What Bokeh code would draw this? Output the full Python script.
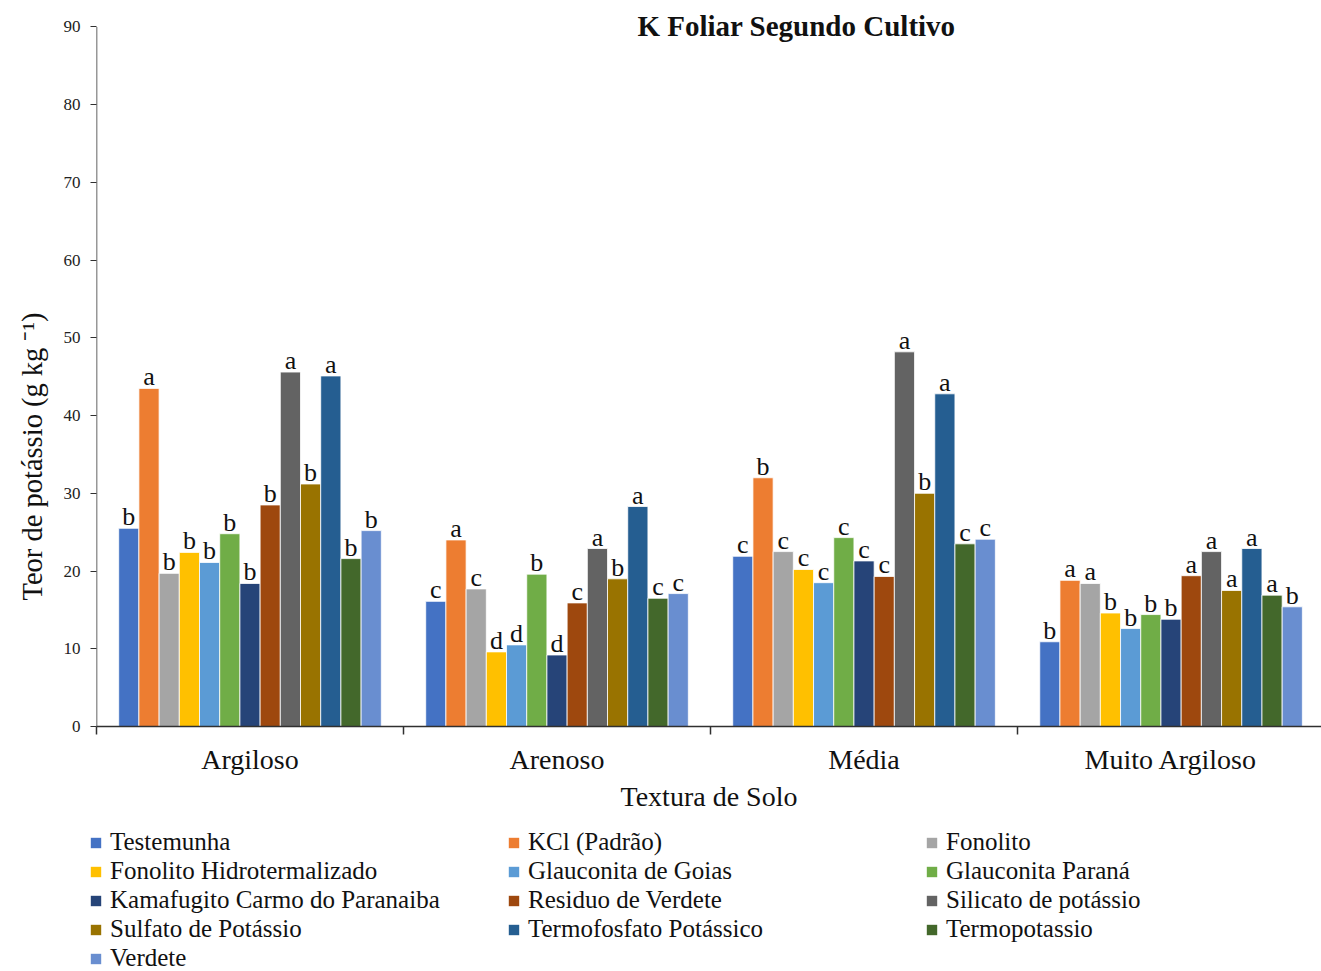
from bokeh.plotting import figure
from bokeh.layouts import column, row
from bokeh.models import (ColumnDataSource, FixedTicker, Legend, LegendItem,
                          Range1d, Label, Title)
from bokeh.core.properties import value
from bokeh.embed import file_html
from bokeh.resources import INLINE

# Soil textures (groups on the x axis)
categories = ["Argiloso", "Arenoso", "Média", "Muito Argiloso"]

# Potassium sources (one bar per source in each group)
treatments = [
    "Testemunha", "KCl (Padrão)", "Fonolito",
    "Fonolito Hidrotermalizado", "Glauconita de Goias", "Glauconita Paraná",
    "Kamafugito Carmo do Paranaiba", "Residuo de Verdete", "Silicato de potássio",
    "Sulfato de Potássio", "Termofosfato Potássico", "Termopotassio",
    "Verdete",
]
colors = ["#4472C4", "#ED7D31", "#A5A5A5", "#FFC000", "#5B9BD5", "#70AD47",
          "#264478", "#9E480E", "#636363", "#997300", "#255E91", "#43682B",
          "#698ED0"]

# Leaf K content (g kg-1), in treatment order, per soil texture
argiloso = [25.5, 43.5, 19.7, 22.4, 21.1, 24.8, 18.4, 28.5, 45.6, 31.2, 45.1, 21.6, 25.2]
arenoso = [16.1, 24.0, 17.7, 9.6, 10.5, 19.6, 9.2, 15.9, 22.9, 19.0, 28.3, 16.5, 17.1]
media = [21.9, 32.0, 22.5, 20.2, 18.5, 24.3, 21.3, 19.3, 48.2, 30.0, 42.8, 23.5, 24.1]
muito_argiloso = [10.9, 18.8, 18.4, 14.6, 12.6, 14.4, 13.8, 19.4, 22.5, 17.5, 22.9, 16.9, 15.4]

# Mean-comparison letters
letras_argiloso = ["b", "a", "b", "b", "b", "b", "b", "b", "a", "b", "a", "b", "b"]
letras_arenoso = ["c", "a", "c", "d", "d", "b", "d", "c", "a", "b", "a", "c", "c"]
letras_media = ["c", "b", "c", "c", "c", "c", "c", "c", "a", "b", "a", "c", "c"]
letras_muito_argiloso = ["b", "a", "a", "b", "b", "b", "b", "a", "a", "a", "a", "a", "b"]

y_ticks = [0, 10, 20, 30, 40, 50, 60, 70, 80, 90]

groups = [argiloso, arenoso, media, muito_argiloso]
group_letters = [letras_argiloso, letras_arenoso, letras_media, letras_muito_argiloso]

SERIF = "Liberation Serif"
INK = "#111111"
AXIS = "#303030"
BAR_W = 0.0658
n_t = len(treatments)

# Head room above 90 so the title sits inside the frame; the y axis line
# itself is drawn only from 0 to 90.
p = figure(width=1321, height=828, title=None,
           x_range=Range1d(0, 3.99), y_range=Range1d(0, 91.6),
           output_backend="svg", toolbar_location=None,
           min_border_left=96, min_border_right=0, min_border_top=14,
           min_border_bottom=102)
p.outline_line_color = None
p.xgrid.visible = False
p.ygrid.visible = False
p.background_fill_color = "white"
p.border_fill_color = "white"

lx, ly, lt = [], [], []
for j, name in enumerate(treatments):
    xs = [i + 0.5 + (j - (n_t - 1) / 2) * BAR_W for i in range(len(categories))]
    tops = [g[j] for g in groups]
    src = ColumnDataSource(dict(x=xs, top=tops))
    p.vbar(x="x", top="top", bottom=0, width=BAR_W, source=src,
           fill_color=colors[j], line_color="white", line_width=0.8)
    lx.extend(xs)
    ly.extend(tops)
    lt.extend(letters[j] for letters in group_letters)

p.text(x=lx, y=ly, text=lt, text_font=value(SERIF), text_font_size="26px",
       text_align="center", text_baseline="bottom", y_offset=3,
       text_color=INK)

# y axis line from 0 to 90
p.segment(x0=[0], y0=[y_ticks[0]], x1=[0], y1=[y_ticks[-1]],
          line_color=AXIS, line_width=1.5)

# x axis: category names centred, tick marks on the group boundaries
xa = p.xaxis[0]
xa.ticker = FixedTicker(ticks=[i + 0.5 for i in range(len(categories))],
                        minor_ticks=list(range(len(categories) + 1)))
xa.major_label_overrides = {i + 0.5: c for i, c in enumerate(categories)}
xa.major_tick_out = 0
xa.major_tick_in = 0
xa.minor_tick_out = 8
xa.minor_tick_in = 0
xa.minor_tick_line_color = AXIS
xa.minor_tick_line_width = 1.5
xa.axis_line_color = AXIS
xa.axis_line_width = 1.5
xa.major_label_text_font = SERIF
xa.major_label_text_font_size = "28px"
xa.major_label_text_color = INK
xa.major_label_standoff = 9
xa.axis_label = "Textura de Solo"
xa.axis_label_text_font = SERIF
xa.axis_label_text_font_size = "28px"
xa.axis_label_text_font_style = "normal"
xa.axis_label_text_color = INK
xa.axis_label_standoff = 3

ya = p.yaxis[0]
ya.ticker = FixedTicker(ticks=y_ticks)
ya.minor_tick_out = 0
ya.minor_tick_in = 0
ya.major_tick_out = 6
ya.major_tick_in = 0
ya.major_tick_line_color = AXIS
ya.axis_line_color = None
ya.major_label_text_font = SERIF
ya.major_label_text_font_size = "17px"
ya.major_label_text_color = "#222222"
ya.major_label_standoff = 10

p.add_layout(Title(text="Teor de potássio (g kg ⁻¹)", align="left", offset=126,
                   standoff=26, text_font=SERIF, text_font_size="28.5px",
                   text_font_style="normal", text_color=INK), "left")

p.add_layout(Label(x=2.28, y=90.1, text="K Foliar Segundo Cultivo",
                   text_font=SERIF, text_font_size="29px",
                   text_font_style="bold", text_align="center",
                   text_baseline="middle", text_color=INK))

# Legend strip below the chart, three columns filled row by row
leg = figure(width=1321, height=143, x_range=Range1d(0, 1), y_range=Range1d(0, 1),
             output_backend="svg", toolbar_location=None,
             x_axis_location=None, y_axis_location=None,
             min_border_left=89, min_border_right=0, min_border_top=0,
             min_border_bottom=0)
leg.outline_line_color = None
leg.grid.visible = False
leg.background_fill_color = "white"
leg.border_fill_color = "white"

items = []
for name, color in zip(treatments, colors):
    # zero-height bar: only its legend swatch shows
    r = leg.vbar(x=[0.5], top=[0], bottom=[0], width=0.01,
                 fill_color=color, line_color=None)
    items.append(LegendItem(label=name, renderers=[r]))

legend = Legend(items=items, orientation="horizontal", ncols=3,
                location="top_left", margin=0, padding=0, spacing=1,
                glyph_width=13, glyph_height=13, label_standoff=8,
                label_width=396, label_text_font=SERIF,
                label_text_font_size="25px", label_text_color=INK,
                border_line_color=None, background_fill_alpha=0)
leg.add_layout(legend, "center")

open("out.html", "w").write(file_html(column(p, row(leg)), INLINE))
